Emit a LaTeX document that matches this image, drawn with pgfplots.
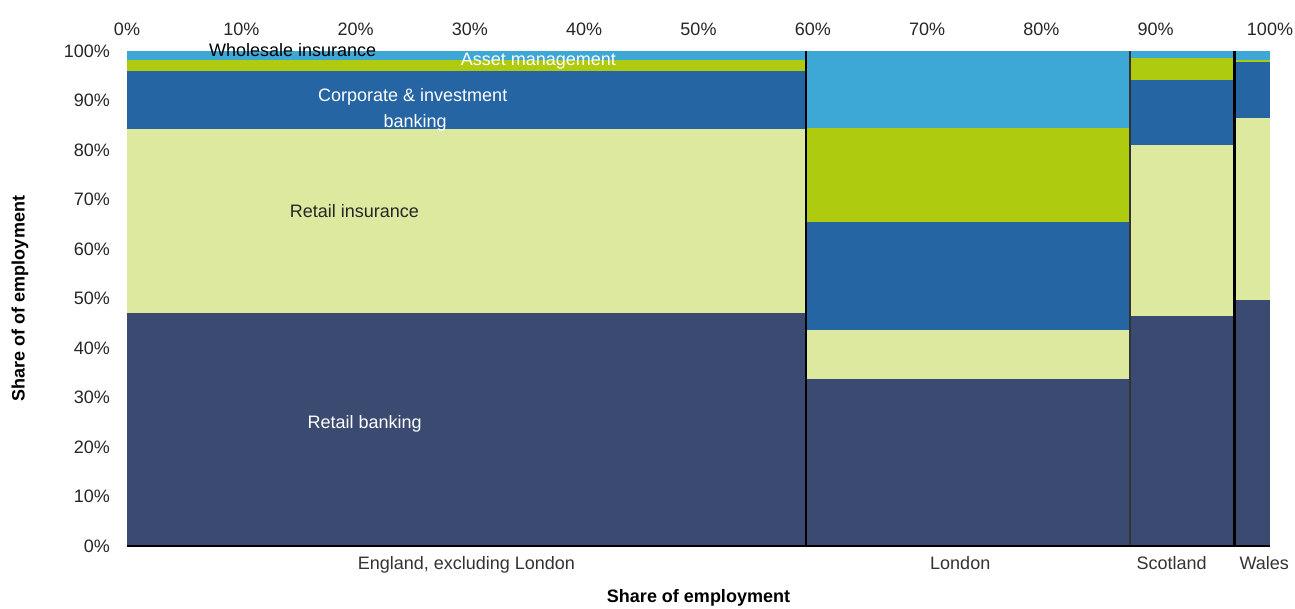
\documentclass[border=0pt]{standalone}
\usepackage{pgfplots}
\pgfplotsset{compat=1.18}
\usepackage{fontspec}
\setmainfont{Liberation Sans}
\definecolor{rb}{RGB}{59,74,112}
\definecolor{ri}{RGB}{222,233,160}
\definecolor{cib}{RGB}{37,101,164}
\definecolor{am}{RGB}{175,203,15}
\definecolor{wi}{RGB}{61,167,213}
\newcommand{\fs}{\fontsize{18}{22}\selectfont}
\newcommand{\seg}[5]{\addplot[draw=none, fill=#1, forget plot] coordinates {(#2,#4) (#3,#4) (#3,#5) (#2,#5)} -- cycle;}
\begin{document}
\begin{tikzpicture}
\useasboundingbox (-127pt,-62pt) rectangle (1168pt,546pt);
\begin{axis}[
  at={(0,0)}, anchor=south west,
  scale only axis, width=1143pt, height=495pt,
  xmin=0, xmax=100, ymin=0, ymax=100,
  axis line style={draw=none},
  xtick={0,10,...,100}, xticklabel pos=top,
  xticklabel={\pgfmathprintnumber{\tick}\%},
  ytick={0,10,...,100},
  yticklabel={\pgfmathprintnumber{\tick}\%},
  major tick length=0,
  /pgf/number format/assume math mode=true,
  tick label style={font=\fs, text=black!85},
  xticklabel style={yshift=12pt},
  yticklabel style={xshift=-13.5pt},
  clip=false,
]
% England, excluding London
\seg{rb}{0}{59.4}{0}{47.1}
\seg{ri}{0}{59.4}{47.1}{84.2}
\seg{cib}{0}{59.4}{84.2}{96.0}
\seg{am}{0}{59.4}{96.0}{98.1}
\seg{wi}{0}{59.4}{98.1}{100}
% London
\seg{rb}{59.4}{87.75}{0}{33.7}
\seg{ri}{59.4}{87.75}{33.7}{43.7}
\seg{cib}{59.4}{87.75}{43.7}{65.5}
\seg{am}{59.4}{87.75}{65.5}{84.5}
\seg{wi}{59.4}{87.75}{84.5}{100}
% Scotland
\seg{rb}{87.75}{96.9}{0}{46.5}
\seg{ri}{87.75}{96.9}{46.5}{81.0}
\seg{cib}{87.75}{96.9}{81.0}{94.1}
\seg{am}{87.75}{96.9}{94.1}{98.5}
\seg{wi}{87.75}{96.9}{98.5}{100}
% Wales
\seg{rb}{96.9}{100}{0}{49.7}
\seg{ri}{96.9}{100}{49.7}{86.4}
\seg{cib}{96.9}{100}{86.4}{97.7}
\seg{am}{96.9}{100}{97.7}{98.2}
\seg{wi}{96.9}{100}{98.2}{100}
% dividers and base line
\addplot[black, line width=2.6pt, forget plot] coordinates {(59.4,0) (59.4,100)};
\addplot[black!80, line width=1.2pt, forget plot] coordinates {(87.75,0) (87.75,100)};
\addplot[black, line width=2.6pt, forget plot] coordinates {(96.9,0) (96.9,100)};
\addplot[black, line width=1.6pt, forget plot] coordinates {(0,0) (100,0)};
% data labels
\node[font=\fs, text=black] at (axis cs:14.5,100.2) {Wholesale insurance};
\node[font=\fs, text=white] at (axis cs:36.0,98.0) {Asset management};
\node[font=\fs, text=white] at (axis cs:25.0,90.7) {Corporate \& investment};
\node[font=\fs, text=white] at (axis cs:25.2,85.5) {banking};
\node[font=\fs, text=black!85] at (axis cs:19.9,67.7) {Retail insurance};
\node[font=\fs, text=white] at (axis cs:20.8,24.6) {Retail banking};
\end{axis}
\begin{axis}[
  at={(0,0)}, anchor=south west,
  scale only axis, width=1143pt, height=495pt,
  xmin=0, xmax=100, ymin=0, ymax=100,
  axis line style={draw=none},
  ytick=\empty,
  xtick={29.7,72.9,91.4,99.5},
  xticklabels={{England, excluding London},London,Scotland,Wales},
  major tick length=0,
  xticklabel style={font=\fs, text=black!80, yshift=-7pt},
]
\end{axis}
\node[font=\bfseries\fs, rotate=90] at (-107pt,247.5pt) {Share of of employment};
\node[font=\bfseries\fs] at (571.5pt,-52pt) {Share of employment};
\end{tikzpicture}
\end{document}
